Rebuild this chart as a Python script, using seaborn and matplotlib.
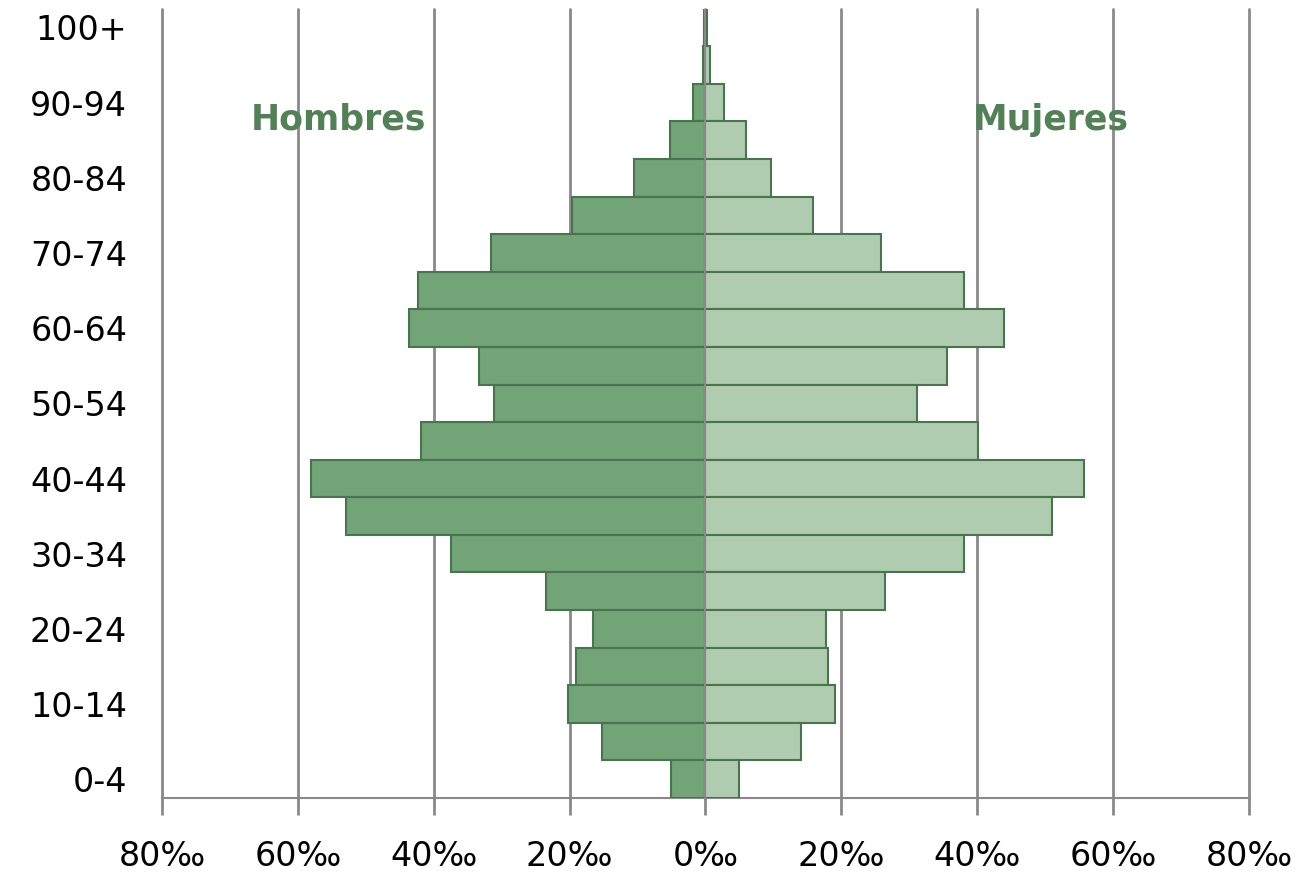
import matplotlib
matplotlib.use("Agg")
import matplotlib.pyplot as plt
import seaborn as sns
import pandas as pd

# age groups, bottom to top
edades = ["0-4", "5-9", "10-14", "15-19", "20-24", "25-29", "30-34", "35-39",
          "40-44", "45-49", "50-54", "55-59", "60-64", "65-69", "70-74",
          "75-79", "80-84", "85-89", "90-94", "95-99", "100+"]
# per mille
hombres = [5.0, 15.2, 20.3, 19.1, 16.6, 23.4, 37.4, 52.9, 58.0, 41.8, 31.1,
           33.3, 43.6, 42.3, 31.5, 19.6, 10.5, 5.2, 1.8, 0.4, 0.2]
mujeres = [4.9, 14.0, 19.0, 18.0, 17.7, 26.4, 38.0, 51.0, 55.7, 40.1, 31.1,
           35.5, 43.9, 38.1, 25.9, 15.9, 9.7, 5.9, 2.8, 0.7, 0.2]
xticks = [-80, -60, -40, -20, 0, 20, 40, 60, 80]

df = pd.DataFrame({"edad": edades, "hombres": [-v for v in hombres], "mujeres": mujeres})
orden = edades[::-1]

sns.set_style("white")
plt.rcParams["font.family"] = ["DejaVu Sans"]

fig = plt.figure(figsize=(13.04, 8.77), dpi=100)
ax = fig.add_axes([0.1242, 0.0901, 0.8336, 0.9])

edge = "#4A7450"
sns.barplot(data=df, y="edad", x="hombres", order=orden, orient="h", width=1.0,
            color="#72A477", saturation=1, edgecolor=edge, linewidth=1.5, ax=ax, zorder=3)
sns.barplot(data=df, y="edad", x="mujeres", order=orden, orient="h", width=1.0,
            color="#B0CCB0", saturation=1, edgecolor=edge, linewidth=1.5, ax=ax, zorder=3)

ax.set_xlim(-80, 80)
ax.set_ylim(20.5, -0.5)
ax.set_xticks(xticks)
ax.set_xticklabels([f"{abs(t)}‰" for t in xticks])
ax.axvline(0, color="#898989", lw=1.5, zorder=4)
for t in xticks:
    ax.axvline(t, color="#898989", lw=2, zorder=1, clip_on=False)

shown = edades[::2]
ax.set_yticks([orden.index(e) for e in shown])
ax.set_yticklabels(shown)

ax.set_xlabel("")
ax.set_ylabel("")
for s in ["top", "right", "left"]:
    ax.spines[s].set_visible(False)
ax.spines["bottom"].set_color("#898989")
ax.spines["bottom"].set_linewidth(1.5)
ax.tick_params(axis="x", length=12, width=2, color="#898989", labelsize=24, pad=18,
               direction="out", bottom=True, labelcolor="black")
ax.tick_params(axis="y", length=0, labelsize=24, pad=25, left=False, labelcolor="black")

ax.text(-54, 2.45, "Hombres", color="#548058", fontsize=25, fontweight="bold",
        ha="center", va="center", zorder=5)
ax.text(50.8, 2.45, "Mujeres", color="#548058", fontsize=25, fontweight="bold",
        ha="center", va="center", zorder=5)

fig.savefig("out.png", dpi=100)
